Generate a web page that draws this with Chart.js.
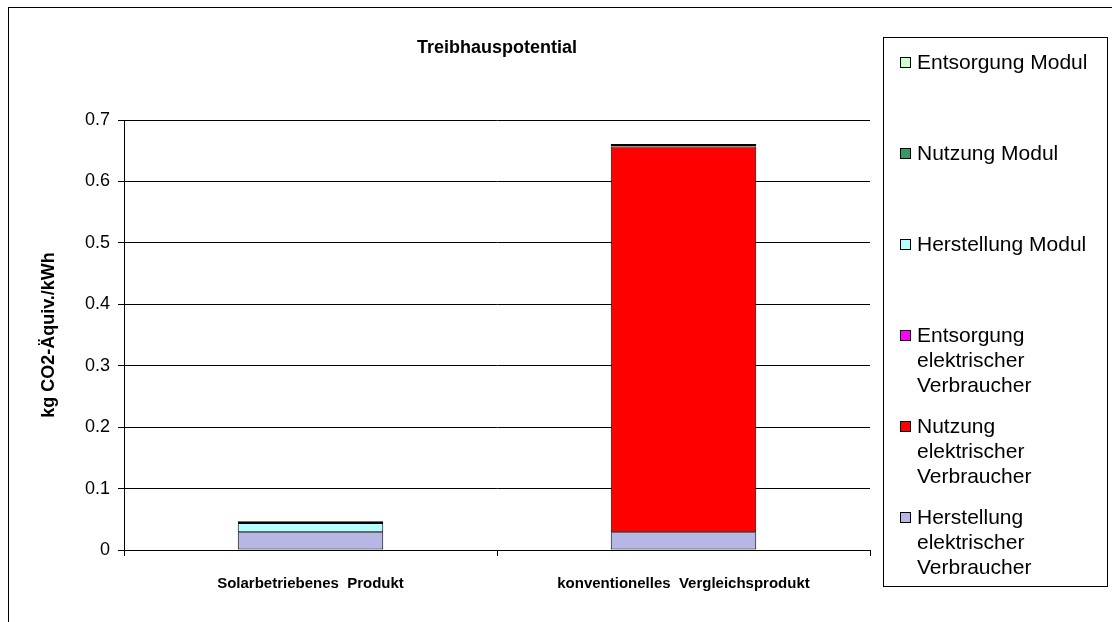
<!DOCTYPE html>
<html>
<head>
<meta charset="utf-8">
<script src="https://cdn.jsdelivr.net/npm/chart.js@4"></script>
<style>
  body { margin: 0; background: #fff; }
  #wrap { width: 1112px; height: 622px; }
</style>
</head>
<body>
<div id="wrap"><canvas id="c" width="1112" height="622"></canvas></div>
<script>
// categories and stacked segments (bottom to top)
const categories = ['Solarbetriebenes  Produkt', 'konventionelles  Vergleichsprodukt'];
const herstellungVerbraucher = [0.029, 0.029];
const nutzungVerbraucher = [null, 0.628];
const entsorgungVerbraucher = [null, 0.004];
const herstellungModul = [0.015, null];
const nutzungModul = [0.003, null];
const entsorgungModul = [null, null];
const yTicks = [0, 0.1, 0.2, 0.3, 0.4, 0.5, 0.6, 0.7];

const FONT = '"Liberation Sans", Arial, sans-serif';

function ds(label, data, color, bw) {
  return { label, data, backgroundColor: color, borderColor: '#000', borderWidth: bw || 1,
           borderSkipped: false, barPercentage: 0.39, categoryPercentage: 1 };
}

// legend box + outer frame + title drawn by hand (Excel style)
const excelLegend = {
  id: 'excelLegend',
  afterDraw(chart) {
    const ctx = chart.ctx, a = chart.chartArea;
    ctx.save();
    ctx.strokeStyle = '#000';
    ctx.lineWidth = 1;
    ctx.strokeRect(8.5, 7.5, 1300, 800);
    // title
    ctx.fillStyle = '#000';
    ctx.font = 'bold 18px ' + FONT;
    ctx.textAlign = 'center';
    ctx.textBaseline = 'middle';
    ctx.fillText('Treibhauspotential', (a.left + a.right) / 2, 48);
    // legend
    ctx.strokeRect(883.5, 37.5, 224, 549);
    ctx.font = '21px ' + FONT;
    ctx.textAlign = 'left';
    const sets = chart.data.datasets.slice().reverse();
    sets.forEach((d, i) => {
      const y0 = 63 + i * 91;
      ctx.fillStyle = d.backgroundColor;
      ctx.fillRect(900.5, y0 - 5.5, 10, 10);
      ctx.strokeStyle = '#000';
      ctx.strokeRect(900.5, y0 - 5.5, 10, 10);
      // word wrap
      const words = d.label.split(' ');
      const lines = [];
      let cur = '';
      words.forEach(w => {
        const t = cur ? cur + ' ' + w : w;
        if (ctx.measureText(t).width > 186 && cur) { lines.push(cur); cur = w; } else cur = t;
      });
      lines.push(cur);
      ctx.fillStyle = '#000';
      lines.forEach((l, j) => ctx.fillText(l, 917, y0 + j * 25));
    });
    ctx.restore();
  }
};

new Chart(document.getElementById('c'), {
  type: 'bar',
  data: {
    labels: categories,
    datasets: [
      ds('Herstellung elektrischer Verbraucher', herstellungVerbraucher, '#B7B7E6'),
      ds('Nutzung elektrischer Verbraucher', nutzungVerbraucher, '#FF0000'),
      ds('Entsorgung elektrischer Verbraucher', entsorgungVerbraucher, '#FF00FF', 2),
      ds('Herstellung Modul', herstellungModul, '#B3FFFF'),
      ds('Nutzung Modul', nutzungModul, '#339966', 2),
      ds('Entsorgung Modul', entsorgungModul, '#CCFFCC')
    ]
  },
  options: {
    responsive: false,
    animation: false,
    layout: { padding: { left: 30, right: 242, top: 120, bottom: 22 } },
    plugins: { legend: { display: false }, tooltip: { enabled: false }, title: { display: false } },
    scales: {
      x: {
        stacked: true,
        grid: { display: true, drawOnChartArea: false, offset: true, color: '#000', tickLength: 6 },
        border: { color: '#000', width: 1 },
        ticks: { color: '#000', font: { family: FONT, size: 15, weight: 'bold' }, padding: 19, maxRotation: 0 },
        afterFit(s) { s.height = 50; }
      },
      y: {
        stacked: true,
        min: 0, max: 0.7,
        afterBuildTicks(s) { s.ticks = yTicks.map(v => ({ value: v })); },
        grid: { color: '#000', tickLength: 6, drawTicks: true },
        border: { color: '#000', width: 1 },
        ticks: { color: '#000', font: { family: FONT, size: 18 }, padding: 8,
                 callback: v => String(v) },
        title: { display: true, text: 'kg CO2-Äquiv./kWh', color: '#000',
                 font: { family: FONT, size: 18, weight: 'bold' }, padding: { top: 8, bottom: 0 } },
        afterFit(s) { s.width = 94; }
      }
    }
  },
  plugins: [excelLegend]
});
</script>
</body>
</html>
